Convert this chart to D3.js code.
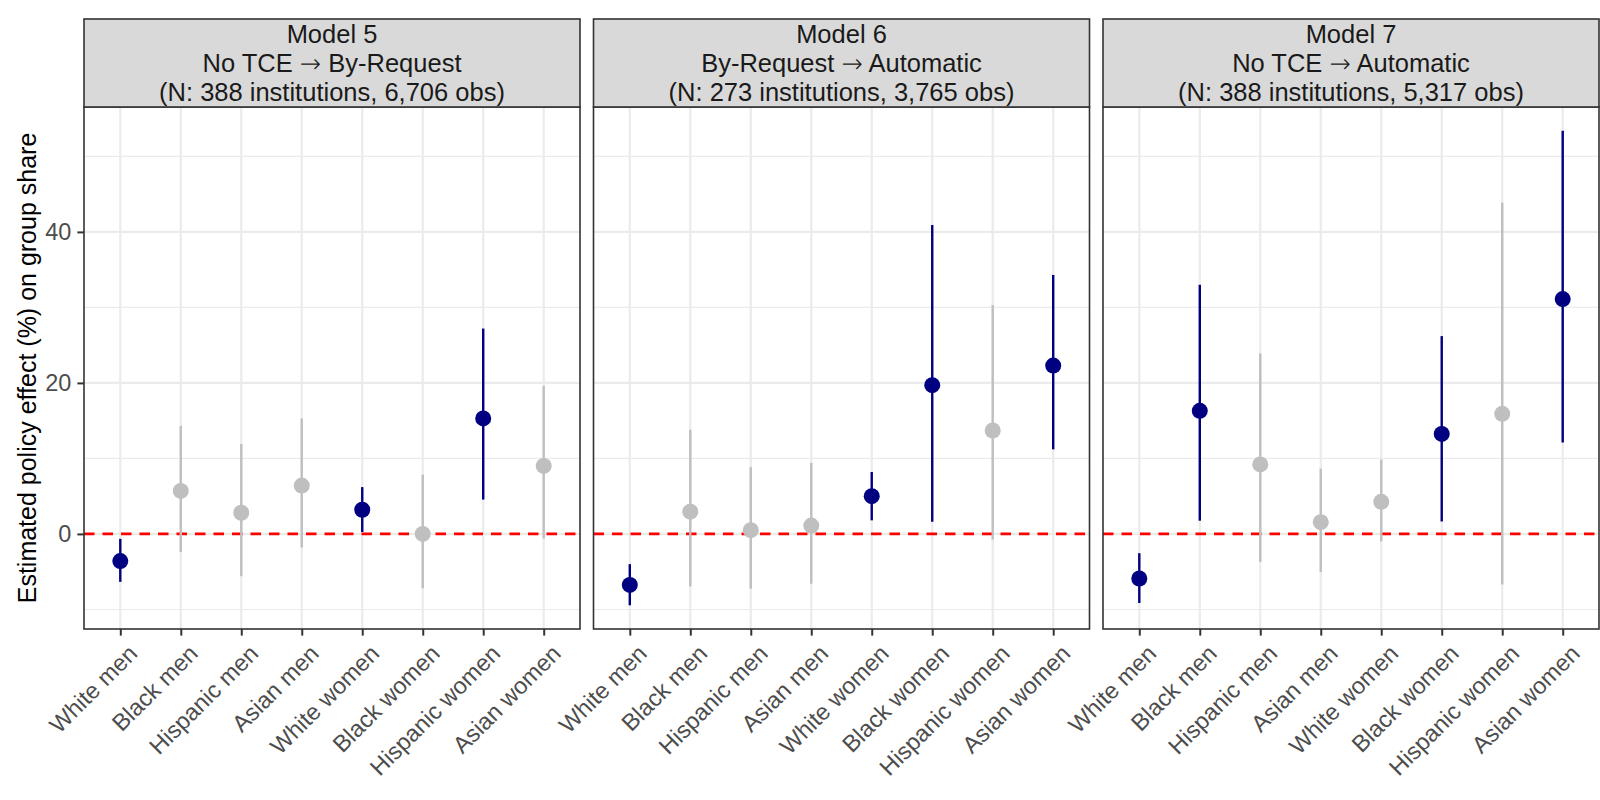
<!DOCTYPE html>
<html>
<head>
<meta charset="utf-8">
<script src="https://cdn.jsdelivr.net/npm/d3@7"></script>
<style>
  body { margin: 0; background: #fff; }
  svg { display: block; font-family: "Liberation Sans", Arial, Helvetica, sans-serif; }
</style>
</head>
<body>
<div class="chart-container"></div>
<script>
var categories = ['White men', 'Black men', 'Hispanic men', 'Asian men',
  'White women', 'Black women', 'Hispanic women', 'Asian women'];

var stripLine1 = ['Model 5', 'Model 6', 'Model 7'];
var stripLine2 = ['No TCE \u2192 By-Request', 'By-Request \u2192 Automatic', 'No TCE \u2192 Automatic'];
var stripLine3 = ['(N: 388 institutions, 6,706 obs)', '(N: 273 institutions, 3,765 obs)',
  '(N: 388 institutions, 5,317 obs)'];

// Point estimates and 95% intervals
var m5Est = [-3.6, 5.7, 2.8, 6.4, 3.2, 0.0, 15.3, 9.0];
var m5Lo  = [-6.35, -2.4, -5.6, -1.8, 0.25, -7.2, 4.55, -0.6];
var m5Hi  = [-0.65, 14.3, 11.9, 15.3, 6.2, 7.85, 27.2, 19.6];

var m6Est = [-6.75, 2.95, 0.5, 1.1, 5.0, 19.7, 13.7, 22.3];
var m6Lo  = [-9.45, -6.95, -7.25, -6.6, 1.8, 1.6, -0.75, 11.2];
var m6Hi  = [-4.0, 13.8, 8.85, 9.4, 8.2, 40.9, 30.3, 34.3];

var m7Est = [-5.9, 16.3, 9.2, 1.55, 4.25, 13.25, 15.9, 31.1];
var m7Lo  = [-9.15, 1.75, -3.7, -5.05, -1.0, 1.65, -6.7, 12.1];
var m7Hi  = [-2.55, 33.0, 23.9, 8.65, 9.85, 26.2, 43.9, 53.4];

var yMajor = [0, 20, 40];
var yMinor = [-10, 10, 30, 50];

var estimates = [m5Est, m6Est, m7Est];
var lows = [m5Lo, m6Lo, m7Lo];
var highs = [m5Hi, m6Hi, m7Hi];

var width = 1600;
var height = 800;
var panelLeft = 84;
var panelW = 496;
var gap = 13.5;
var stripTop = 19;
var panelTop = 107;
var panelBottom = 629;
var labelFont = '23.5px';

var svg = d3.select('.chart-container')
  .append('svg')
  .attr('width', width)
  .attr('height', height);

// shared y scale with 5% expansion like ggplot
var allLo = d3.min(lows, function (a) { return d3.min(a); });
var allHi = d3.max(highs, function (a) { return d3.max(a); });
var pad = (allHi - allLo) * 0.05;
var y = d3.scaleLinear()
  .domain([allLo - pad, allHi + pad])
  .range([panelBottom, panelTop]);

// y axis title
svg.append('text')
  .attr('transform', 'translate(36,' + ((panelTop + panelBottom) / 2) + ') rotate(-90)')
  .attr('text-anchor', 'middle')
  .style('font-size', '25px')
  .style('fill', '#000')
  .text('Estimated policy effect (%) on group share');

stripLine1.forEach(function (title, p) {
  var x0 = panelLeft + p * (panelW + gap);
  var x = d3.scalePoint()
    .domain(categories)
    .range([x0, x0 + panelW])
    .padding(0.6);

  var g = svg.append('g');

  // panel background
  g.append('rect')
    .attr('x', x0).attr('y', panelTop)
    .attr('width', panelW).attr('height', panelBottom - panelTop)
    .style('fill', '#fff');

  // minor grid
  g.selectAll('.minor')
    .data(yMinor)
    .enter()
    .append('line')
    .attr('x1', x0).attr('x2', x0 + panelW)
    .attr('y1', function (d) { return y(d); })
    .attr('y2', function (d) { return y(d); })
    .style('stroke', '#EBEBEB')
    .style('stroke-width', 1.1);

  // major grid
  g.selectAll('.major')
    .data(yMajor)
    .enter()
    .append('line')
    .attr('x1', x0).attr('x2', x0 + panelW)
    .attr('y1', function (d) { return y(d); })
    .attr('y2', function (d) { return y(d); })
    .style('stroke', '#EBEBEB')
    .style('stroke-width', 2.2);

  g.selectAll('.vgrid')
    .data(categories)
    .enter()
    .append('line')
    .attr('x1', function (d) { return x(d); })
    .attr('x2', function (d) { return x(d); })
    .attr('y1', panelTop).attr('y2', panelBottom)
    .style('stroke', '#EBEBEB')
    .style('stroke-width', 2.2);

  // reference line at zero
  g.append('line')
    .attr('x1', x0).attr('x2', x0 + panelW)
    .attr('y1', y(0)).attr('y2', y(0))
    .style('stroke', '#FF0000')
    .style('stroke-width', 2.6)
    .style('stroke-dasharray', '10.5,8');

  var rows = categories.map(function (c, i) {
    var lo = lows[p][i];
    var hi = highs[p][i];
    return { cat: c, est: estimates[p][i], lo: lo, hi: hi, sig: lo > 0 || hi < 0 };
  });

  // intervals
  g.selectAll('.ci')
    .data(rows)
    .enter()
    .append('line')
    .attr('x1', function (d) { return x(d.cat); })
    .attr('x2', function (d) { return x(d.cat); })
    .attr('y1', function (d) { return y(d.lo); })
    .attr('y2', function (d) { return y(d.hi); })
    .style('stroke', function (d) { return d.sig ? '#000080' : '#BFBFBF'; })
    .style('stroke-width', 2.4);

  // points
  g.selectAll('.pt')
    .data(rows)
    .enter()
    .append('circle')
    .attr('cx', function (d) { return x(d.cat); })
    .attr('cy', function (d) { return y(d.est); })
    .attr('r', 8)
    .style('fill', function (d) { return d.sig ? '#000080' : '#BFBFBF'; });

  // panel border
  g.append('rect')
    .attr('x', x0).attr('y', panelTop)
    .attr('width', panelW).attr('height', panelBottom - panelTop)
    .style('fill', 'none')
    .style('stroke', '#333333')
    .style('stroke-width', 1.6);

  // strip
  g.append('rect')
    .attr('x', x0).attr('y', stripTop)
    .attr('width', panelW).attr('height', panelTop - stripTop)
    .style('fill', '#D9D9D9')
    .style('stroke', '#333333')
    .style('stroke-width', 1.6);

  [stripLine1[p], stripLine2[p], stripLine3[p]].forEach(function (t, k) {
    var txt = g.append('text')
      .attr('x', x0 + panelW / 2)
      .attr('y', 43.3 + k * 28.7)
      .attr('text-anchor', 'middle')
      .style('font-size', '25.5px')
      .style('fill', '#1A1A1A');
    // arrow glyph taken from DejaVu so it keeps a longer shape
    t.split('\u2192').forEach(function (part, j) {
      if (j > 0) {
        txt.append('tspan')
          .style('font-family', '"DejaVu Sans", sans-serif')
          .style('font-weight', 200)
          .text('\u2192');
      }
      txt.append('tspan').text(part);
    });
  });

  // x axis
  var xAxis = d3.axisBottom(x).tickSize(6.6).tickSizeOuter(0);
  var ax = g.append('g')
    .attr('transform', 'translate(0,' + panelBottom + ')')
    .call(xAxis);
  ax.select('.domain').remove();
  ax.selectAll('.tick line').style('stroke', '#333333').style('stroke-width', 2);
  ax.selectAll('.tick text')
    .attr('x', 0).attr('y', 0)
    .attr('dy', '0.72em')
    .attr('transform', 'translate(6,14) rotate(-45)')
    .attr('text-anchor', 'end')
    .style('font-family', '"Liberation Sans", Arial, Helvetica, sans-serif')
    .style('font-size', labelFont)
    .style('fill', '#4D4D4D');

  // y axis only on first panel
  if (p === 0) {
    var yAxis = d3.axisLeft(y).tickValues(yMajor).tickSize(6.6).tickPadding(6);
    var ay = g.append('g')
      .attr('transform', 'translate(' + x0 + ',0)')
      .call(yAxis);
    ay.select('.domain').remove();
    ay.selectAll('.tick line').style('stroke', '#333333').style('stroke-width', 2);
    ay.selectAll('.tick text')
      .style('font-family', '"Liberation Sans", Arial, Helvetica, sans-serif')
      .style('font-size', labelFont)
      .style('fill', '#4D4D4D');
  }
});
</script>
</body>
</html>
